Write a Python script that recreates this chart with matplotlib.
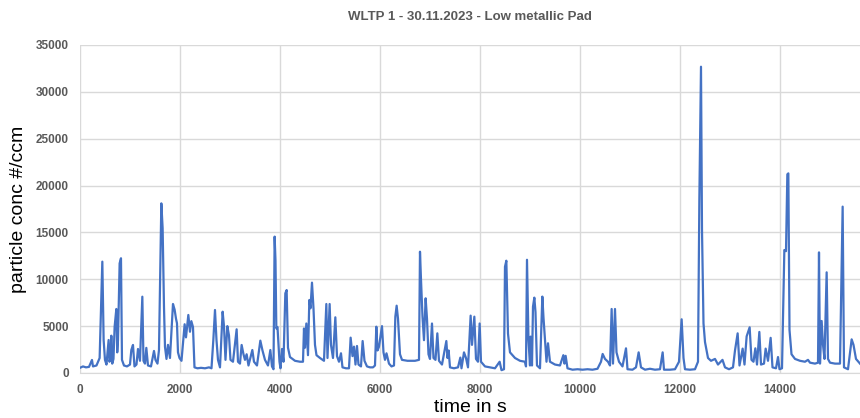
import matplotlib.pyplot as plt

# time in s / particle concentration #/ccm at the visible peaks and dips
time_s = [
    0, 60, 120, 180, 240, 260, 330, 393, 447, 473, 500, 530, 573, 590, 610, 627, 645, 670,
    693, 727, 745, 760, 793, 820, 840, 880, 940, 1000, 1027, 1060, 1090, 1130, 1160, 1200,
    1247, 1270, 1300, 1327, 1360, 1420, 1480, 1510, 1550, 1580, 1627, 1653, 1680, 1700,
    1730, 1760, 1800, 1860, 1893, 1920, 1940, 1960, 1990, 2030, 2093, 2120, 2167, 2200,
    2227, 2260, 2290, 2350, 2420, 2500, 2580, 2630, 2667, 2700, 2730, 2760, 2800, 2853,
    2880, 2910, 2947, 2980, 3010, 3060, 3133, 3160, 3200, 3233, 3270, 3300, 3333, 3370,
    3447, 3480, 3540, 3607, 3650, 3700, 3760, 3807, 3840, 3870, 3893, 3910, 3927, 3950,
    3990, 4010, 4040, 4070, 4107, 4133, 4160, 4200, 4300, 4400, 4460, 4480, 4500, 4527,
    4560, 4587, 4610, 4640, 4670, 4700, 4730, 4800, 4880, 4927, 4950, 4993, 5020, 5060,
    5107, 5140, 5180, 5220, 5250, 5320, 5380, 5413, 5450, 5480, 5510, 5540, 5570, 5620,
    5653, 5690, 5740, 5800, 5860, 5900, 5927, 5950, 5980, 6040, 6070, 6100, 6130, 6180,
    6230, 6280, 6307, 6333, 6360, 6400, 6440, 6550, 6700, 6780, 6800, 6820, 6850, 6880,
    6913, 6940, 6970, 7000, 7040, 7070, 7110, 7147, 7180, 7240, 7327, 7350, 7373, 7400,
    7480, 7560, 7607, 7630, 7680, 7720, 7760, 7813, 7840, 7887, 7920, 7960, 7993, 8020,
    8100, 8200, 8300, 8393, 8430, 8480, 8500, 8527, 8560, 8600, 8700, 8800, 8900, 8920,
    8940, 8970, 9000, 9013, 9040, 9060, 9087, 9110, 9140, 9200, 9247, 9270, 9300, 9330,
    9360, 9400, 9500, 9600, 9667, 9690, 9713, 9750, 9850, 9950, 10050, 10150, 10250, 10350,
    10420, 10453, 10500, 10560, 10600, 10633, 10660, 10700, 10730, 10780, 10850, 10920,
    10950, 11050, 11120, 11173, 11220, 11300, 11400, 11500, 11600, 11653, 11680, 11800,
    11900, 11980, 12033, 12070, 12100, 12200, 12300, 12360, 12387, 12420, 12440, 12470,
    12500, 12560, 12620, 12700, 12760, 12850, 12900, 12980, 13060, 13100, 13153, 13190,
    13253, 13290, 13333, 13393, 13430, 13470, 13507, 13540, 13587, 13620, 13680, 13713,
    13760, 13813, 13850, 13920, 13960, 13990, 14040, 14087, 14120, 14147, 14167, 14190,
    14230, 14300, 14400, 14500, 14560, 14600, 14700, 14760, 14780, 14800, 14833, 14860,
    14890, 14933, 14960, 15000, 15100, 15200, 15253, 15280, 15360, 15433, 15470, 15520, 15600,
]
conc = [
    550, 700, 600, 650, 1390, 700, 800, 1600, 11880, 3520, 1390, 900, 3520, 1200, 1600, 3980, 1000, 1500,
    4940, 6830, 2200, 3500, 11700, 12240, 1400, 800, 700, 900, 2450, 2990, 700, 900, 2560, 1300,
    8140, 1300, 1000, 2680, 800, 700, 2350, 1400, 1000, 2450, 18100, 15440, 7080, 2800,
    1500, 3000, 1600, 7360, 6750, 5800, 5300, 2200, 1600, 1300, 5200, 3800, 6190, 4400,
    5530, 4900, 600, 500, 550, 500, 600, 500, 3520, 6720, 3520, 1400, 600, 6540,
    5000, 1400, 5000, 4000, 1400, 1200, 4660, 1200, 1000, 2990, 2000, 1400, 2000, 800,
    2450, 1200, 800, 3450, 2400, 1400, 800, 2450, 700, 400, 14550, 12000, 4750, 4900,
    1200, 500, 2560, 1200, 8500, 8850, 2700, 1700, 1300, 1200, 1200, 4750, 2700, 5280,
    1900, 7790, 6900, 9640, 6900, 3000, 1900, 1600, 1300, 7360, 1600, 7360, 3000, 1600,
    5940, 1800, 1200, 2100, 600, 500, 500, 3770, 1800, 2810, 900, 2880, 900, 700,
    3410, 1300, 700, 600, 600, 800, 4940, 2400, 2800, 5000, 2200, 1400, 2100, 1000,
    700, 800, 6010, 7180, 5800, 2000, 1400, 1300, 1300, 1400, 12940, 10000, 6010, 3500,
    7970, 5800, 2000, 1500, 5280, 1600, 1400, 4230, 1300, 900, 3410, 1600, 2400, 600,
    500, 600, 1640, 500, 2200, 1600, 600, 6120, 3000, 6010, 1500, 1200, 5280, 1200,
    700, 600, 500, 1200, 300, 400, 11340, 11980, 4200, 2200, 1600, 1300, 1200, 700,
    12080, 3500, 800, 3880, 800, 7080, 8040, 6500, 800, 500, 8150, 5900, 3520, 1200,
    3170, 1200, 900, 800, 1900, 1000, 1830, 500, 350, 400, 350, 400, 350, 450,
    1200, 2030, 1500, 1200, 800, 6830, 1000, 6830, 2200, 1200, 700, 2630,
    400, 350, 600, 2200, 600, 350, 450, 350, 400, 2200, 350, 350,
    400, 1200, 5730, 1600, 400, 350, 400, 1200, 18460, 32680, 15260, 5300,
    3300, 1600, 1300, 1500, 900, 1400, 600, 400, 600, 2400, 4230, 800,
    2600, 900, 3910, 4870, 1400, 1200, 2630, 900, 4380, 900, 1000, 2600,
    1300, 3750, 600, 500, 1700, 400, 500, 13120, 13000, 21200, 21300, 4600,
    2000, 1500, 1300, 1200, 1400, 1100, 1000, 1100, 12870, 1000, 5550, 3000,
    1500, 10740, 1500, 1100, 1000, 1000, 17750, 600, 400, 3590, 3000, 1500, 1000,
]

x_ticks = [0, 2000, 4000, 6000, 8000, 10000, 12000, 14000]
y_ticks = [0, 5000, 10000, 15000, 20000, 25000, 30000, 35000]

fig = plt.figure(figsize=(8.6, 4.18), dpi=100)
ax = fig.add_axes([0.093, 0.1077, 0.907, 0.7847])

ax.plot(time_s, conc, color='#4472C4', linewidth=1.6)

ax.set_xlim(0, 15600)
ax.set_ylim(0, 35000)
ax.set_xticks(x_ticks)
ax.set_yticks(y_ticks)
ax.grid(True, color='#d9d9d9', linewidth=1)
ax.set_axisbelow(True)
for side in ['top', 'right', 'left']:
    ax.spines[side].set_visible(False)
ax.spines['bottom'].set_color('#d9d9d9')
ax.tick_params(length=0, labelsize=8.5, labelcolor='#595959', pad=8)
for lab in ax.get_xticklabels() + ax.get_yticklabels():
    lab.set_fontweight('bold')
    lab.set_family('Liberation Sans')

ax.set_title('WLTP 1 - 30.11.2023 - Low metallic Pad', fontsize=9.5, fontweight='bold',
             color='#595959', family='Liberation Sans', pad=18)
ax.set_xlabel('time in s', fontsize=14, family='Liberation Sans', labelpad=2)
ax.set_ylabel('particle conc #/ccm', fontsize=14, family='Liberation Sans', labelpad=6)

fig.savefig('out.png', dpi=100)
